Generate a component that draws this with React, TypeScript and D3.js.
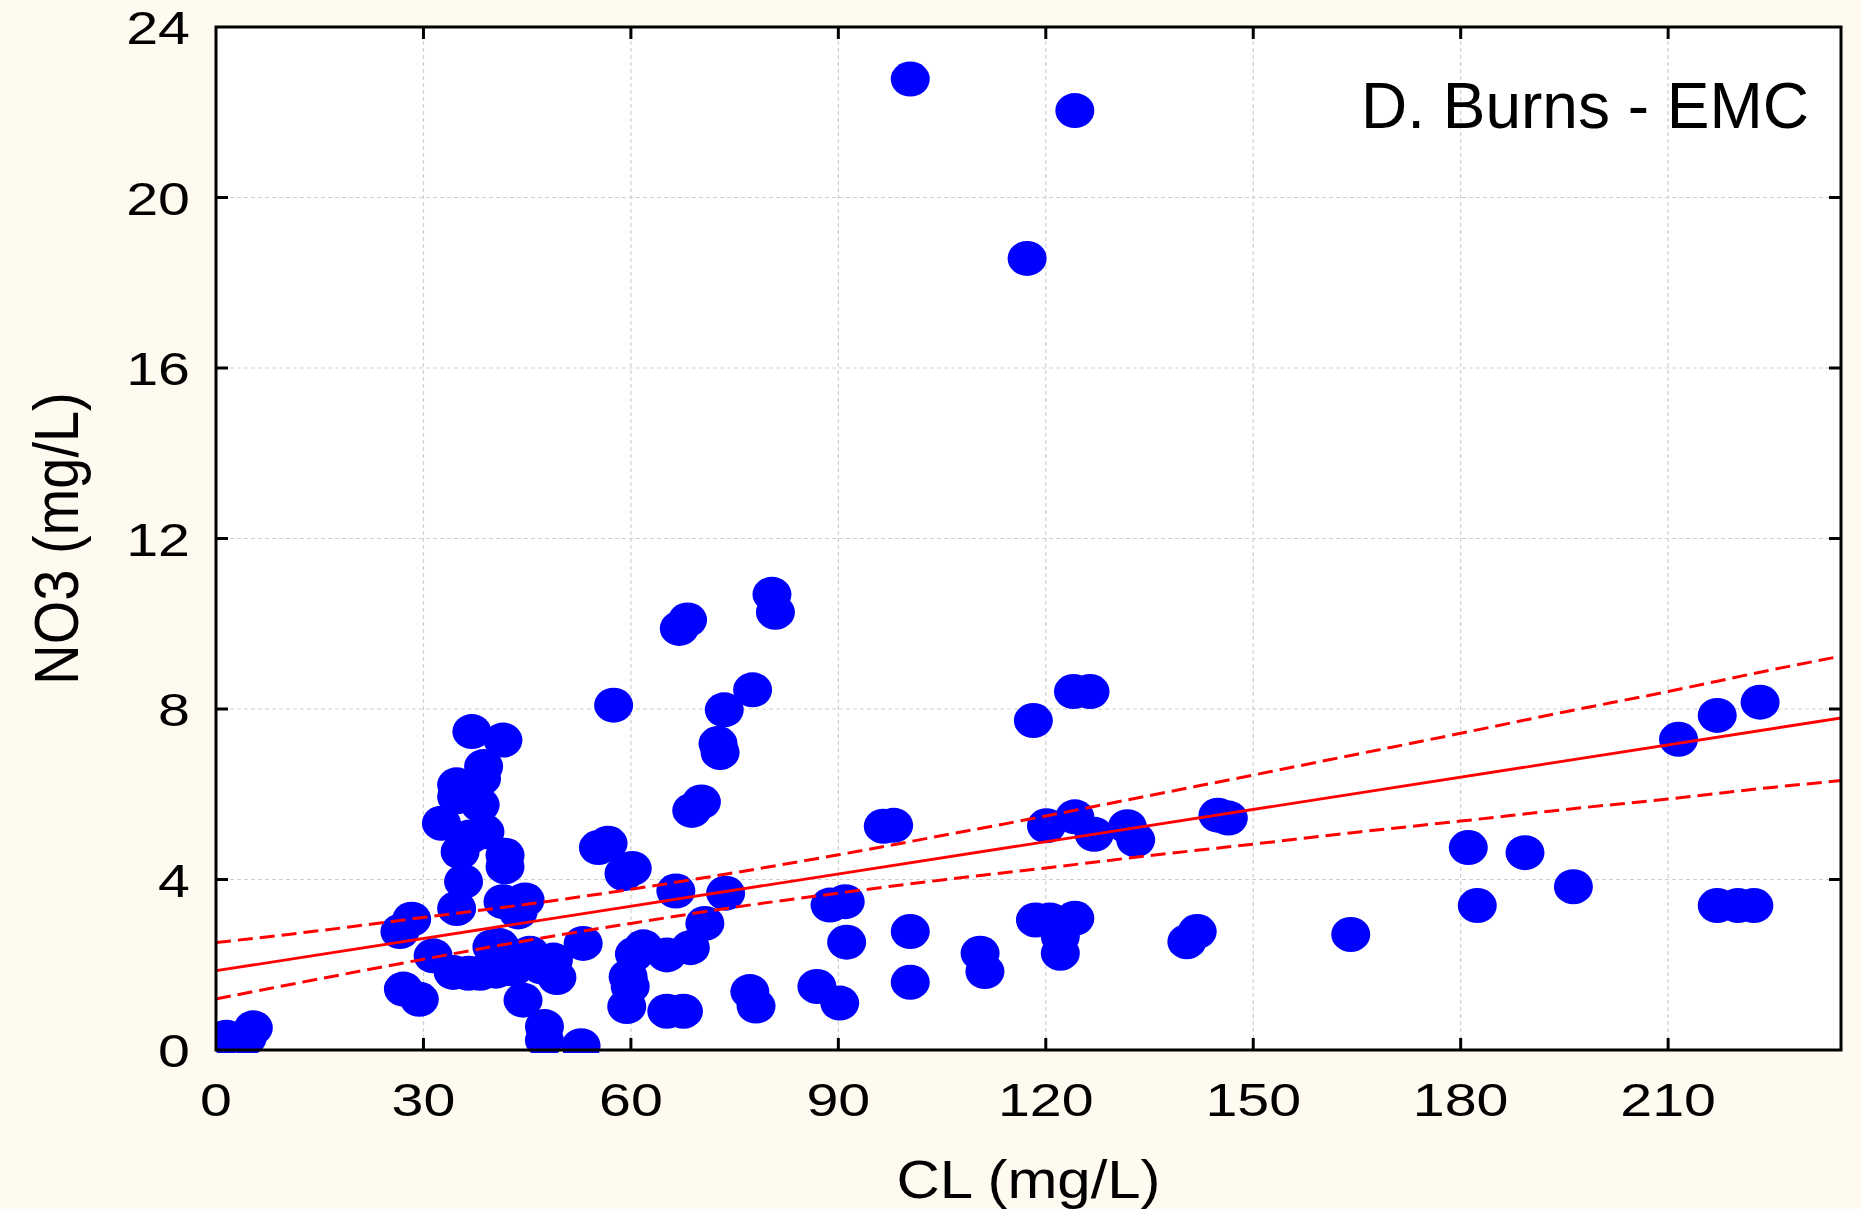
import React from "react";
import * as d3 from "d3";

// ---- data ----
const clValues: number[] = [
  1.5, 4.5, 5.4,
  26.6, 28.3, 27.1, 29.4, 31.4,
  32.6, 34.8, 34.8, 35.3, 35.8, 34.8, 37.0, 38.7, 38.4, 38.2, 38.9, 36.7, 41.5, 41.8, 41.8, 41.5, 44.7, 43.7,
  34.3, 36.5, 38.2, 39.9, 41.0, 42.5, 44.4, 45.4, 47.0, 48.8, 49.3, 40.5, 43.0,
  44.4, 47.5, 47.5, 52.8, 53.1,
  55.3, 56.7, 59.0, 60.2, 57.5,
  66.5, 73.7, 70.7,
  61.8, 60.5, 65.2, 68.6,
  59.6, 59.9, 59.4, 65.2, 67.6,
  77.2, 78.1,
  67.0, 68.2, 80.4, 80.9,
  77.6, 73.5, 72.6, 72.9, 70.2, 68.8,
  86.9, 90.2, 88.8, 91.0, 91.2,
  96.5, 98.0,
  100.4, 100.4, 110.5, 111.2,
  100.4, 124.2, 117.3,
  118.2, 124.0, 126.4,
  120.1, 124.2, 127.0, 131.8, 133.0,
  118.5, 120.6, 124.2, 122.1, 122.1,
  140.4, 141.9, 144.9, 146.4,
  164.1, 181.1, 182.4, 189.3, 196.3,
  211.5, 217.1, 223.3, 217.1, 220.1, 222.4,
];
const no3Values: number[] = [
  0.30, 0.28, 0.52,
  2.78, 3.07, 1.43, 1.19, 2.21,
  5.32, 6.22, 5.94, 4.65, 3.95, 3.32, 7.47, 6.65, 6.37, 5.75, 5.12, 5.00, 7.27, 4.57, 4.30, 3.48, 3.52, 3.24,
  1.82, 1.80, 1.80, 2.42, 2.45, 2.19, 2.20, 2.27, 1.95, 2.11, 1.70, 1.85, 1.90,
  1.17, 0.55, 0.23, 0.10, 2.50,
  4.75, 4.85, 4.14, 4.26, 8.09,
  3.73, 3.68, 2.97,
  2.42, 2.25, 2.23, 2.40,
  1.72, 1.49, 1.02, 0.91, 0.91,
  1.37, 1.03,
  9.89, 10.09, 10.69, 10.27,
  8.45, 7.98, 7.19, 6.98, 5.82, 5.62,
  1.49, 1.10, 3.40, 3.48, 2.53,
  5.25, 5.27,
  2.78, 1.59, 2.27, 1.84,
  22.78, 22.04, 18.57,
  7.73, 8.41, 8.41,
  5.26, 5.47, 5.06, 5.24, 4.93,
  3.05, 3.05, 3.09, 2.66, 2.27,
  2.54, 2.78, 5.51, 5.44,
  2.71, 4.75, 3.39, 4.63, 3.83,
  7.29, 7.85, 8.16, 3.39, 3.39, 3.39,
];

// regression line and 95% confidence band
const fitIntercept = 1.86;
const fitSlope = 0.02523;
const bandX: number[] = [0, 15, 30, 45, 60, 75, 90, 105, 120, 135, 150, 165, 180, 195, 210, 225, 235];
const bandUpper: number[] = [2.52, 2.80, 3.11, 3.42, 3.77, 4.16, 4.58, 5.03, 5.49, 5.97, 6.45, 6.94, 7.43, 7.93, 8.41, 8.92, 9.24];
const bandLower: number[] = [1.20, 1.67, 2.13, 2.57, 2.97, 3.35, 3.68, 3.99, 4.27, 4.56, 4.83, 5.11, 5.37, 5.64, 5.89, 6.16, 6.32];

const xTicks: number[] = [0, 30, 60, 90, 120, 150, 180, 210];
const yTicks: number[] = [0, 4, 8, 12, 16, 20, 24];
const xTitle = "CL (mg/L)";
const yTitle = "NO3 (mg/L)";
const note = "D. Burns - EMC";

const W = 1861;
const H = 1209;
const left = 216;
const right = 1841;
const top = 27;
const bottom = 1050;
const FONT = "'Liberation Sans', Arial, Helvetica, sans-serif";

export default function App() {
  const x = d3.scaleLinear().domain([0, 235]).range([left, right]);
  const y = d3.scaleLinear().domain([0, 24]).range([bottom, top]);

  const pts = clValues.map((c, i) => ({ c, n: no3Values[i] }));
  const fitLine = d3.line<number>().x((d) => x(d)).y((d) => y(fitIntercept + fitSlope * d));
  const bandLine = (vals: number[]) =>
    d3
      .line<number>()
      .x((_, i) => x(bandX[i]))
      .y((d) => y(d))
      .curve(d3.curveMonotoneX)(vals) as string;

  const tick = 12;

  return (
    <svg
      width={W}
      height={H}
      style={{ position: "absolute", left: 0, top: 0, display: "block" }}
      fontFamily={FONT}
    >
      <defs>
        <clipPath id="plotClip">
          <rect x={left} y={top} width={right - left} height={bottom - top + 3} />
        </clipPath>
      </defs>
      <rect x={0} y={0} width={W} height={H} fill="#FFFAF0" />
      <rect x={left} y={top} width={right - left} height={bottom - top} fill="#FFFFFF" />

      {/* grid */}
      {xTicks.filter((t) => t > 0).map((t) => (
        <line key={"gx" + t} x1={x(t)} x2={x(t)} y1={top} y2={bottom} stroke="#cfcfcf" strokeWidth={1.2} strokeDasharray="4 3" />
      ))}
      {yTicks.filter((t) => t > 0 && t < 24).map((t) => (
        <line key={"gy" + t} x1={left} x2={right} y1={y(t)} y2={y(t)} stroke="#cfcfcf" strokeWidth={1.2} strokeDasharray="4 3" />
      ))}

      {/* points */}
      <g clipPath="url(#plotClip)">
        {pts.map((p, i) => (
          <ellipse key={i} cx={x(p.c)} cy={y(p.n)} rx={19.5} ry={17.5} fill="#0000FF" />
        ))}
      </g>

      {/* regression and confidence band */}
      <g clipPath="url(#plotClip)" fill="none" stroke="#FF0000">
        <path d={fitLine([0, 235]) as string} strokeWidth={2.8} />
        <path d={bandLine(bandUpper)} strokeWidth={3} strokeDasharray="15 7" />
        <path d={bandLine(bandLower)} strokeWidth={3} strokeDasharray="15 7" />
      </g>

      {/* frame */}
      <rect x={left} y={top} width={right - left} height={bottom - top} fill="none" stroke="#000" strokeWidth={3} />

      {/* ticks (inward, all four sides) */}
      {xTicks.filter((t) => t > 0).map((t) => (
        <g key={"tx" + t} stroke="#000" strokeWidth={3}>
          <line x1={x(t)} x2={x(t)} y1={bottom} y2={bottom - tick} />
          <line x1={x(t)} x2={x(t)} y1={top} y2={top + tick} />
        </g>
      ))}
      {yTicks.filter((t) => t > 0 && t < 24).map((t) => (
        <g key={"ty" + t} stroke="#000" strokeWidth={3}>
          <line x1={left} x2={left + tick} y1={y(t)} y2={y(t)} />
          <line x1={right} x2={right - tick} y1={y(t)} y2={y(t)} />
        </g>
      ))}

      {/* tick labels */}
      {xTicks.map((t) => (
        <text
          key={"lx" + t}
          transform={`translate(${x(t)},1116) scale(1.22,1)`}
          textAnchor="middle"
          fontSize={47}
          fill="#000"
        >
          {t}
        </text>
      ))}
      {yTicks.map((t) => (
        <text
          key={"ly" + t}
          transform={`translate(190,${y(t) + 17}) scale(1.22,1)`}
          textAnchor="end"
          fontSize={47}
          fill="#000"
        >
          {t}
        </text>
      ))}

      {/* axis titles */}
      <text transform={`translate(${(left + right) / 2},1198) scale(1.1,1)`} textAnchor="middle" fontSize={54.5} fill="#000">
        {xTitle}
      </text>
      <text transform={`translate(78,${(top + bottom) / 2}) scale(1.12,1) rotate(-90)`} textAnchor="middle" fontSize={56} fill="#000">
        {yTitle}
      </text>

      {/* annotation */}
      <text x={1809} y={128} textAnchor="end" fontSize={64} fill="#000">
        {note}
      </text>
    </svg>
  );
}
